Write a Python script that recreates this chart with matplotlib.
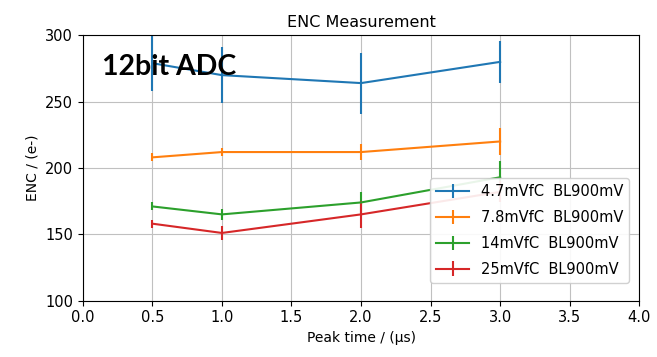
import matplotlib
matplotlib.use("Agg")
import matplotlib.pyplot as plt

peak_time = [0.5, 1.0, 2.0, 3.0]

labels = ["4.7mVfC  BL900mV", "7.8mVfC  BL900mV", "14mVfC  BL900mV", "25mVfC  BL900mV"]
enc_47 = [279, 270, 264, 280]
err_47 = [21, 21, 23, 16]
enc_78 = [208, 212, 212, 220]
err_78 = [3, 3, 6, 10]
enc_14 = [171, 165, 174, 193]
err_14 = [3, 4, 8, 12]
enc_25 = [158, 151, 165, 182]
err_25 = [3, 5, 10, 8]

series = [(enc_47, err_47), (enc_78, err_78), (enc_14, err_14), (enc_25, err_25)]
colors = ["#1f77b4", "#ff7f0e", "#2ca02c", "#d62728"]

fig = plt.figure(figsize=(6.57, 3.57), dpi=100)
ax = fig.add_axes([0.126, 0.158, 0.847, 0.743])

for (vals, errs), lab, c in zip(series, labels, colors):
    ax.errorbar(peak_time, vals, yerr=errs, label=lab, color=c, lw=1.5)

ax.set_xlim(0, 4)
ax.set_ylim(100, 300)
ax.set_xticks([0.0, 0.5, 1.0, 1.5, 2.0, 2.5, 3.0, 3.5, 4.0])
ax.set_yticks([100, 150, 200, 250, 300])
ax.grid(True, color="#c0c0c0", lw=0.8)
ax.set_title("ENC Measurement", fontsize=11.5)
ax.set_xlabel("Peak time / (μs)", fontsize=10)
ax.set_ylabel("ENC / (e-)", fontsize=10)
ax.tick_params(labelsize=10.5)
ax.legend(loc="lower right", bbox_to_anchor=(0.995, 0.04), fontsize=10.5,
          labelspacing=0.75, handlelength=2.3, framealpha=0.9)

ax.text(0.14, 276, "12bit ADC", fontsize=20.5, fontweight="bold",
        family=["Lato", "DejaVu Sans"], va="center", ha="left")

fig.savefig("out.png", dpi=100)
